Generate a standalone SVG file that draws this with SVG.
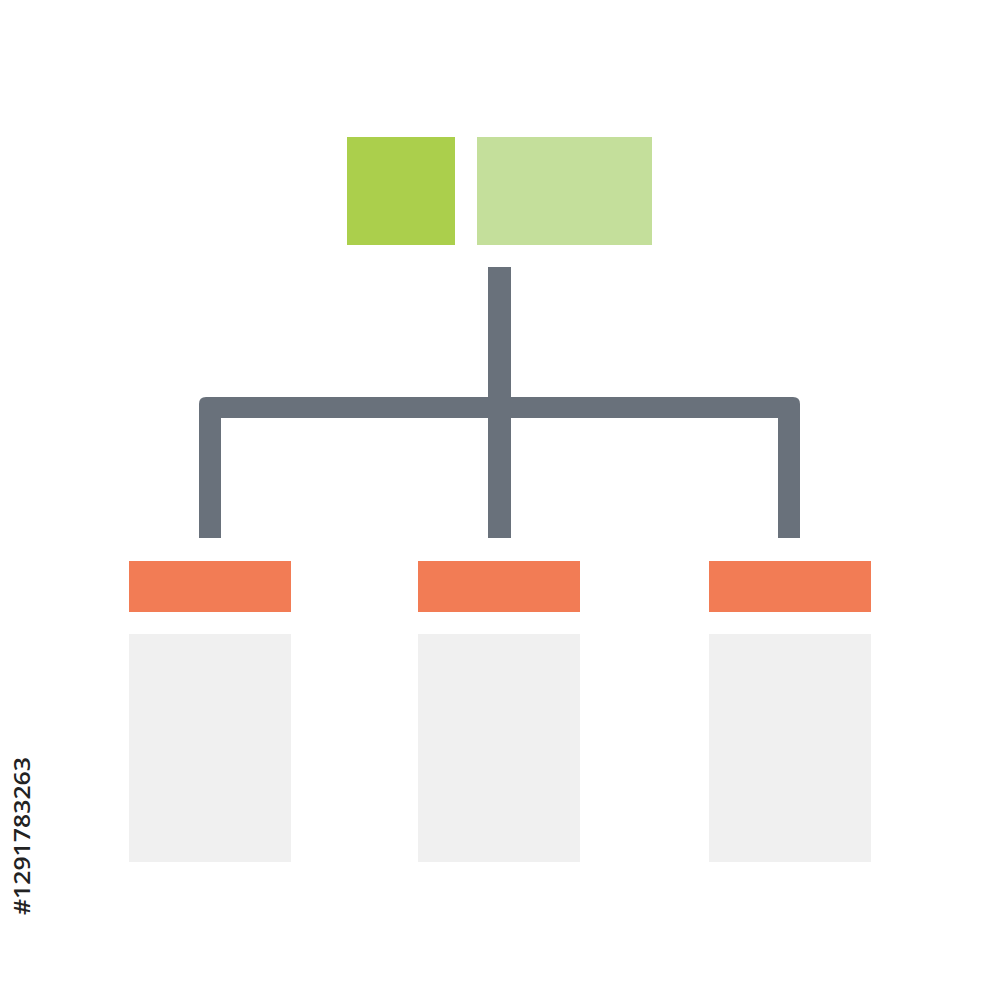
<svg xmlns="http://www.w3.org/2000/svg" width="1000" height="1000" viewBox="0 0 1000 1000">
<style>
.conn{fill:#69717b}
.head{fill:#f27c55}
.body{fill:#f0f0f0}
.id{font-family:"Open Sans","Liberation Sans",sans-serif;font-size:22px;font-weight:600;fill:#222}
</style>
<rect width="1000" height="1000" fill="#ffffff"/>
<g id="root">
<rect x="347" y="137" width="108" height="108" fill="#abcf4c"/>
<rect x="477" y="137" width="175" height="108" fill="#c4df9b"/>
</g>
<g id="connectors">
<rect class="conn" x="488" y="267" width="23" height="271"/>
<path class="conn" d="M199,538 V404 Q199,397 206,397 H793 Q800,397 800,404 V538 H778 V418 H221 V538 Z"/>
</g>
<g id="child1">
<rect class="head" x="129" y="561" width="162" height="51"/>
<rect class="body" x="129" y="634" width="162" height="228"/>
</g>
<g id="child2">
<rect class="head" x="418" y="561" width="162" height="51"/>
<rect class="body" x="418" y="634" width="162" height="228"/>
</g>
<g id="child3">
<rect class="head" x="709" y="561" width="162" height="51"/>
<rect class="body" x="709" y="634" width="162" height="228"/>
</g>
<text class="id" transform="translate(30,915) rotate(-90)" textLength="158" lengthAdjust="spacingAndGlyphs">#1291783263</text>
</svg>
